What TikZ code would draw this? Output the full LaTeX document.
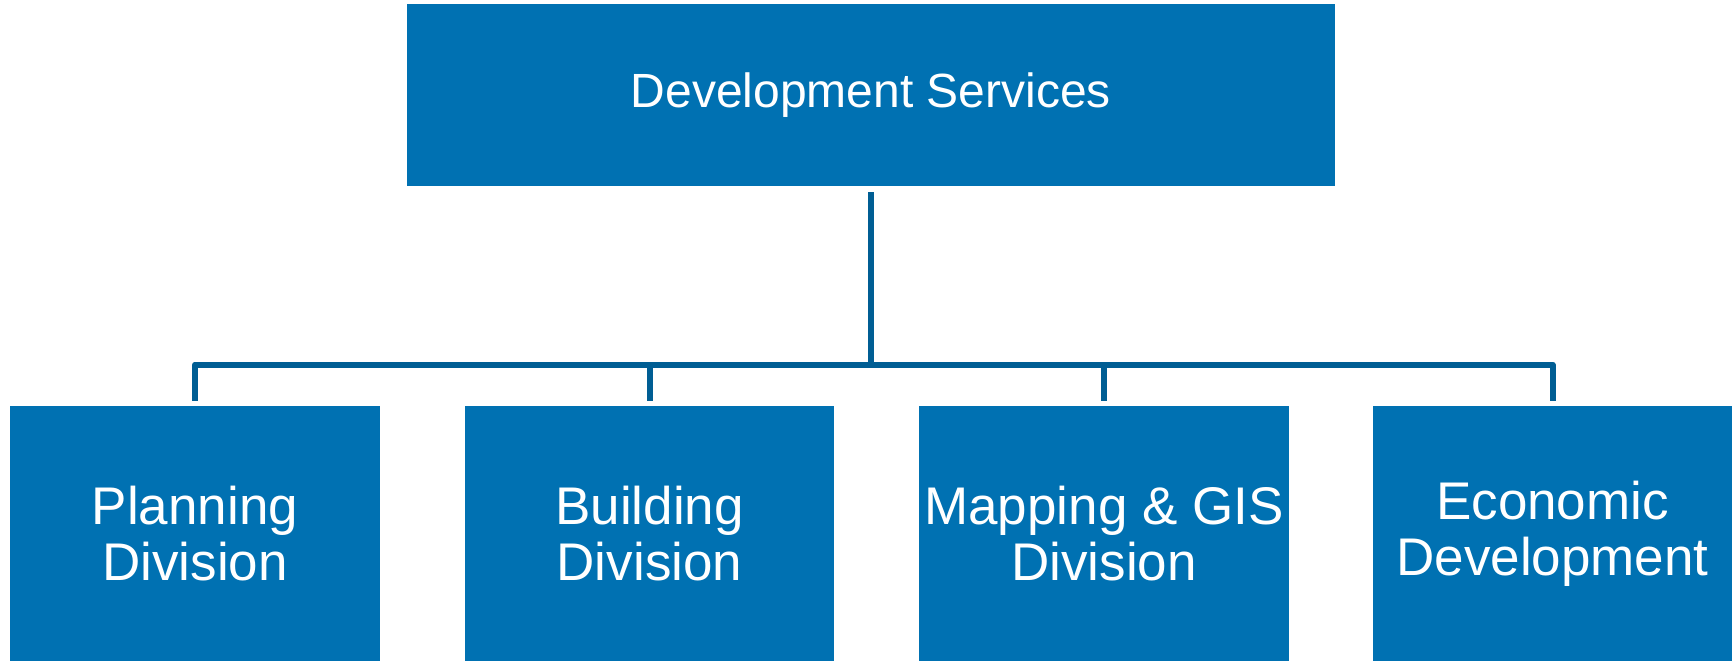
\documentclass[tikz,border=0pt]{standalone}
\usepackage{fontspec}
\setmainfont{Liberation Sans}
\definecolor{boxblue}{RGB}{0,113,178}
\definecolor{lineblue}{RGB}{0,94,148}
\tikzset{
  topbox/.style={fill=boxblue, text=white, inner sep=0pt, minimum width=928pt, minimum height=182pt, font=\fontsize{48}{55}\selectfont, align=center},
  divbox/.style={fill=boxblue, text=white, inner sep=0pt, minimum height=255pt, font=\fontsize{53}{56}\selectfont, align=center},
  conn/.style={draw=lineblue, line width=6pt, line join=round}
}
\begin{document}
\begin{tikzpicture}[x=1pt,y=1pt]
\useasboundingbox[fill=white] (0,0) rectangle (1735,-661);
\node[topbox] (top) at (871,-95) {Development Services};
\node[divbox, minimum width=370pt] (p) at (195,-533.5) {Planning\\Division};
\node[divbox, minimum width=369pt] (b) at (649.5,-533.5) {Building\\Division};
\node[divbox, minimum width=370pt] (m) at (1104,-533.5) {Mapping \& GIS\\Division};
\node[divbox, minimum width=359pt] (e) at (1552.5,-533.5) {Economic\\Development};
\coordinate (bus) at (0,-364.5);
\draw[conn] ([yshift=5pt]p.north) -- (p.north |- bus) -- (e.north |- bus) -- ([yshift=5pt]e.north);
\draw[conn] ([yshift=-6pt]top.south) -- (top.south |- bus);
\draw[conn] ([yshift=5pt]b.north) -- (b.north |- bus);
\draw[conn] ([yshift=5pt]m.north) -- (m.north |- bus);
\end{tikzpicture}
\end{document}
